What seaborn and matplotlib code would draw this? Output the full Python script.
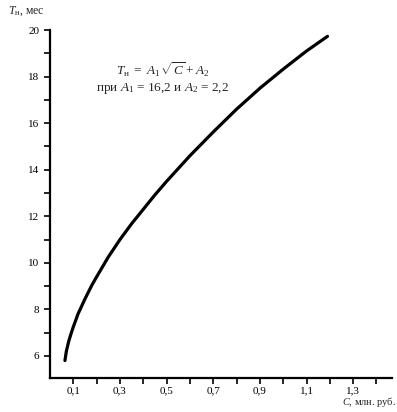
import matplotlib
matplotlib.use("Agg")
import matplotlib.pyplot as plt
import seaborn as sns
import pandas as pd
import numpy as np

# values
cost = [0.064, 0.07, 0.08, 0.09, 0.10, 0.12, 0.15, 0.18, 0.20, 0.25, 0.30, 0.35, 0.40,
        0.45, 0.50, 0.60, 0.70, 0.80, 0.90, 1.00, 1.10, 1.19]
term = [5.80, 6.20, 6.62, 6.95, 7.25, 7.80, 8.45, 9.05, 9.40, 10.25, 11.00, 11.68, 12.30,
        12.92, 13.50, 14.60, 15.62, 16.60, 17.50, 18.32, 19.10, 19.73]

x_ticks = [0.1, 0.3, 0.5, 0.7, 0.9, 1.1, 1.3]
x_tick_labels = ["0,1", "0,3", "0,5", "0,7", "0,9", "1,1", "1,3"]
y_ticks = [6, 8, 10, 12, 14, 16, 18, 20]

sns.set_style("ticks")
plt.rcParams["font.family"] = ["Liberation Serif", "DejaVu Serif"]
plt.rcParams["mathtext.fontset"] = "custom"
plt.rcParams["mathtext.rm"] = "Liberation Serif"
plt.rcParams["mathtext.it"] = "Liberation Serif:italic"

df = pd.DataFrame({"C": cost, "T": term})

fig = plt.figure(figsize=(3.97, 4.12), dpi=100)
ax = fig.add_axes([0.126, 0.0825, 0.861, 0.8445])
sns.lineplot(data=df, x="C", y="T", ax=ax, color="black", linewidth=2.3)

ax.set_xlim(0.0, 1.466)
ax.set_ylim(5.05, 20.0)
ax.set_xticks(x_ticks)
ax.set_xticklabels(x_tick_labels)
ax.set_xticks(np.arange(0.2, 1.41, 0.2), minor=True)
ax.set_yticks(y_ticks)
ax.set_yticks(range(7, 20, 2), minor=True)
ax.tick_params(axis="both", which="both", direction="out", length=4, width=1.2,
               colors="black", labelsize=8)
ax.tick_params(axis="x", pad=2)
ax.set_xlabel("")
ax.set_ylabel("")
for side in ["top", "right"]:
    ax.spines[side].set_visible(False)
for side in ["left", "bottom"]:
    ax.spines[side].set_linewidth(1.6)
    ax.spines[side].set_color("black")

fig.text(0.02, 0.972, r"$T_{\mathrm{н}}$, мес", fontsize=8.5, ha="left", va="center")
fig.text(0.998, 0.024, r"$C$, млн. руб.", fontsize=7.5, ha="right", va="center")
ax.text(0.33, 0.885, r"$T_{\mathrm{н}}\ =\ A_1\,\sqrt{C} + A_2$", transform=ax.transAxes,
        fontsize=9.5, ha="center", va="center")
ax.text(0.33, 0.832, r"при $A_1$ = 16,2 и $A_2$ = 2,2", transform=ax.transAxes,
        fontsize=9.5, ha="center", va="center")

fig.savefig("out.png", dpi=100, facecolor="white")
